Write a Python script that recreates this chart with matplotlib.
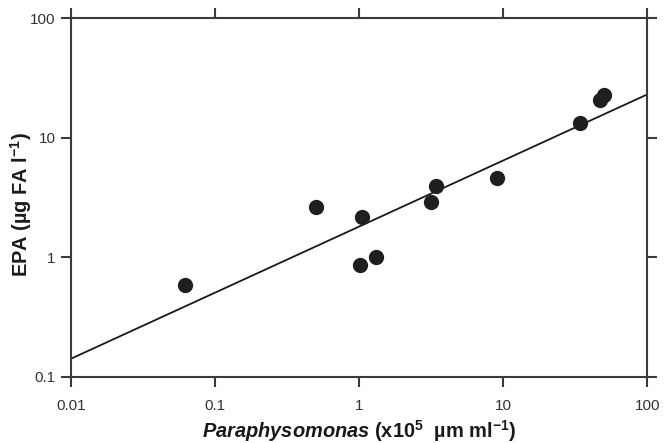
import matplotlib
matplotlib.use("Agg")
import matplotlib.pyplot as plt
from matplotlib.ticker import FixedFormatter, NullLocator, FixedLocator

plt.rcParams['font.family'] = ['Liberation Sans', 'DejaVu Sans']
plt.rcParams['mathtext.fontset'] = 'custom'
plt.rcParams['mathtext.rm'] = 'Liberation Sans:bold'
plt.rcParams['mathtext.bf'] = 'Liberation Sans:bold'
plt.rcParams['mathtext.it'] = 'Liberation Sans:bold:italic'

# Data
para_x = [0.062, 0.50, 1.05, 1.02, 1.32, 3.16, 3.39, 9.1, 34.0, 47.0, 50.0]
epa_y = [0.585, 2.63, 2.18, 0.86, 1.01, 2.88, 3.94, 4.6, 13.2, 20.6, 22.8]

fit_x = [0.01, 100]
fit_y = [0.141, 23.1]

x_ticks = [0.01, 0.1, 1, 10, 100]
x_tick_labels = ["0.01", "0.1", "1", "10", "100"]
y_ticks = [0.1, 1, 10, 100]
y_tick_labels = ["0.1", "1", "10", "100"]

fig = plt.figure(figsize=(6.72, 4.43), dpi=100)
ax = fig.add_axes([0.1052, 0.1497, 0.8583, 0.8090])

ax.plot(fit_x, fit_y, color="#1a1a1a", lw=1.3, zorder=2)
ax.plot(para_x, epa_y, 'o', color="#1f1f22", markersize=11, markeredgewidth=0, zorder=3)

ax.set_xscale('log')
ax.set_yscale('log')
ax.set_xlim(0.01, 100)
ax.set_ylim(0.1, 100)

ax.xaxis.set_major_locator(FixedLocator(x_ticks))
ax.xaxis.set_major_formatter(FixedFormatter(x_tick_labels))
ax.yaxis.set_major_locator(FixedLocator(y_ticks))
ax.yaxis.set_major_formatter(FixedFormatter(y_tick_labels))
ax.xaxis.set_minor_locator(NullLocator())
ax.yaxis.set_minor_locator(NullLocator())

spine_color = "#3a3a3f"
for s in ax.spines.values():
    s.set_color(spine_color)
    s.set_linewidth(1.5)

ax.tick_params(axis='both', which='major', direction='out', length=7, width=1.5,
               color=spine_color, labelsize=11, labelcolor="#333333",
               top=True, right=True, labeltop=False, labelright=False)
ax.tick_params(axis='x', pad=9)
ax.tick_params(axis='y', pad=4)

ax.set_ylabel("EPA (µg FA l$^{-1}$)", fontsize=14.4, fontweight='bold', color="#1a1a1a")
ax.set_xlabel("$\\it{Paraphysomonas}$ (x10$^{5}$  µm ml$^{-1}$)",
              fontsize=14.4, fontweight='bold', color="#1a1a1a")
ax.yaxis.set_label_coords(-0.064, 0.48)
ax.xaxis.set_label_coords(0.5, -0.115)

fig.savefig("out.png", dpi=100)
